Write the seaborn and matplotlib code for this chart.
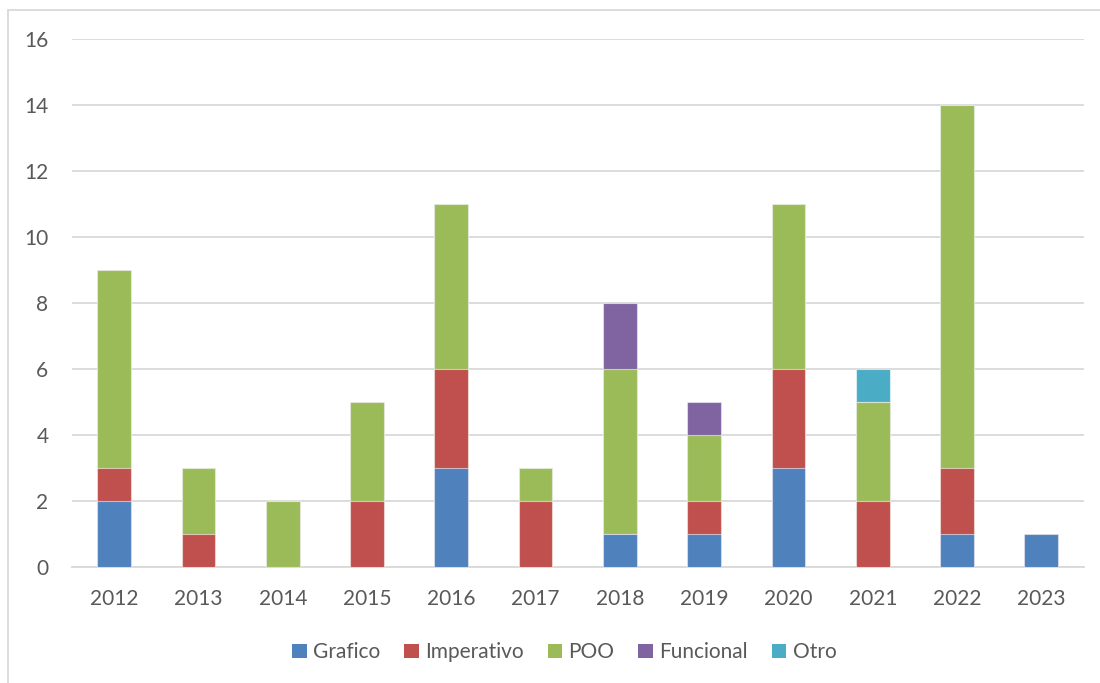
import matplotlib
matplotlib.use("Agg")
import matplotlib.pyplot as plt
from matplotlib.patches import Patch
from matplotlib.lines import Line2D
import numpy as np
import pandas as pd
import seaborn as sns

years = ["2012", "2013", "2014", "2015", "2016", "2017",
         "2018", "2019", "2020", "2021", "2022", "2023"]
grafico    = [2, 0, 0, 0, 3, 0, 1, 1, 3, 0, 1, 1]
imperativo = [1, 1, 0, 2, 3, 2, 0, 1, 3, 2, 2, 0]
poo        = [6, 2, 2, 3, 5, 1, 5, 2, 5, 3, 11, 0]
funcional  = [0, 0, 0, 0, 0, 0, 2, 1, 0, 0, 0, 0]
otro       = [0, 0, 0, 0, 0, 0, 0, 0, 0, 1, 0, 0]

series_names = ["Grafico", "Imperativo", "POO", "Funcional", "Otro"]
series_vals = [grafico, imperativo, poo, funcional, otro]
colors = ["#4F81BD", "#C0504D", "#9BBB59", "#8064A2", "#4BACC6"]

sns.set_theme(style="white")
plt.rcParams["font.family"] = ["Lato", "DejaVu Sans"]

fig = plt.figure(figsize=(11, 6.83), dpi=100)
ax = fig.add_axes([0.0655, 0.170, 0.9195, 0.773])

# stacked bars: draw cumulative totals from the top layer down
cum = np.cumsum(np.array(series_vals, dtype=float), axis=0)
df = pd.DataFrame({"year": years})
for i in range(len(series_names) - 1, -1, -1):
    df["v"] = cum[i]
    sub = df[df["v"] > 0]
    sns.barplot(data=sub, x="year", y="v", order=years, color=colors[i],
                saturation=1, width=0.40, ax=ax,
                edgecolor=(1, 1, 1, 0.55), linewidth=0.8, zorder=3)

ax.set_xlim(-0.5, len(years) - 0.5)
ax.set_ylim(0, 16)
ax.set_yticks(range(0, 17, 2))
ax.set_xlabel("")
ax.set_ylabel("")
ax.yaxis.grid(True, color="#D9D9D9", linewidth=1.3, zorder=0)
ax.set_axisbelow(True)
for s in ["top", "right", "left"]:
    ax.spines[s].set_visible(False)
ax.spines["bottom"].set_color("#D9D9D9")
ax.spines["bottom"].set_linewidth(1.3)
ax.tick_params(axis="both", length=0, colors="#595959", labelsize=15)
ax.tick_params(axis="y", pad=17)
ax.tick_params(axis="x", pad=16)

handles = [Patch(facecolor=c, edgecolor="none") for c in colors]
fig.legend(handles, series_names, loc="center", bbox_to_anchor=(0.513, 0.045),
           ncol=5, frameon=False, fontsize=15, labelcolor="#595959",
           handlelength=0.7, handleheight=0.7, handletextpad=0.3,
           columnspacing=1.15)

# outer chart frame
fig.add_artist(Line2D([0.0073, 0.0073], [0.0, 0.9854], color="#D9D9D9",
                      linewidth=1.3, transform=fig.transFigure))
fig.add_artist(Line2D([0.0073, 1.0], [0.9854, 0.9854], color="#D9D9D9",
                      linewidth=1.3, transform=fig.transFigure))

fig.savefig("out.png", dpi=100, facecolor="white")
